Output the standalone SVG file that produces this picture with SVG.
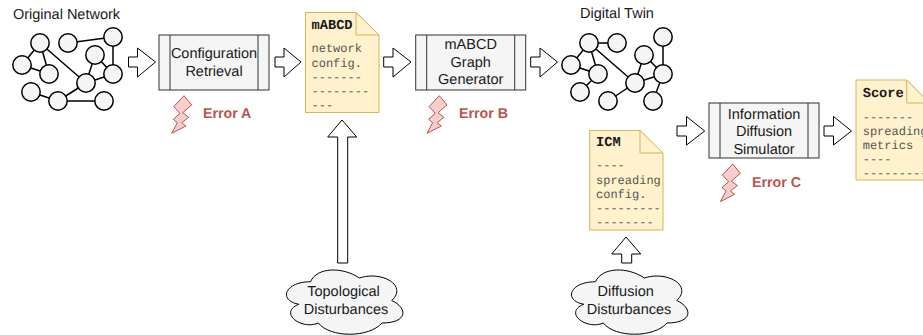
<svg xmlns="http://www.w3.org/2000/svg" xmlns:xlink="http://www.w3.org/1999/xlink" width="923" height="335" viewBox="0 0 923 335">
<style>
text{font-family:"Liberation Sans",Arial,sans-serif;text-rendering:geometricPrecision}
.bg{fill:#fff}
.edge{stroke:#000;stroke-width:1.5;fill:none}
.n{fill:#f5f5f5;stroke:#000;stroke-width:1.5}
.arrow{fill:#fff;stroke:#000;stroke-width:1}
.box{fill:#f5f5f5;stroke:#333;stroke-width:1}
.lbl{font-size:14.5px;fill:#1a1a1a;text-anchor:middle}
.ttl{font-size:14.5px;fill:#1a1a1a;text-anchor:middle}
.doc{fill:#fff2cc;stroke:#d6b656;stroke-width:1}
.mono{font-family:"Liberation Mono",monospace;font-size:12px;fill:#555}
.mono-b{font-family:"Liberation Mono",monospace;font-size:13.7px;font-weight:bold;fill:#1a1a1a}
.bolt{fill:#f8cecc;stroke:#b85450;stroke-width:1}
.err{font-size:14.2px;font-weight:bold;fill:#b85450}
.cloud{fill:#f5f5f5;stroke:#000;stroke-width:1}
</style>
<defs>
<path id="cl" d="M310.5 281.75C284.5 281.75 278 300.5 298.8 304.25C278 312.5 301.4 330.5 318.3 323C330 338 369 338 382 323C408 323 408 308 391.75 300.5C408 285.5 382 270.5 359.25 278C343 266.75 317 266.75 310.5 281.75Z"/>
<path id="bo" d="M184 95.7L191.7 105L182.7 112.7L188.7 117.3L181.7 122.7L186 126L171.7 133.3L177.3 122.7L173.3 119.3L180 113.3L173.7 106.7Z"/>
</defs>
<rect class="bg" width="923" height="335"/>
<g id="connectors">
<g class="edge">
<path d="M40 43L22 65M40 43L49 74M40 43L86 83M22 65L49 74M68 43L113 37M113 37L113 74M95 55L113 74M95 55L86 83M113 74L86 83M86 83L58 101M31 92L58 101M58 101L104 101"/>
<path d="M589 43L617 43M589 43L571 65M589 43L598 74M589 43L635 83M571 65L598 74M598 74L580 92M663 37L663 74M644 55L663 74M644 55L635 83M663 74L635 83M663 74L653 101M635 83L608 101"/>
</g>
<g class="arrow">
<path d="M128.5 57H137.5V48L155.5 62L137.5 77V67H128.5Z"/>
<path d="M275 57H284V48L301 62L284 77V67H275Z"/>
<path d="M383.7 57H393V48L411 62L393 77V67H383.7Z"/>
<path d="M530.7 57H540V48L557.5 62L540 77V67H530.7Z"/>
<path d="M677 126H686.5V116.5L704.7 131L686.5 145V136H677Z"/>
<path d="M824 126H833.5V116.5L851.5 131L833.5 145V136H824Z"/>
<path d="M337.7 263V137H327.7L342 120L356.7 137H347.7V263Z"/>
<path d="M621.7 263V254H611.7L626 237L640.7 254H631.7V263Z"/>
</g>
</g>
<g id="original-network">
<text class="ttl" x="66.5" y="19">Original Network</text>
<g id="on1"><circle class="n" cx="40" cy="43" r="9.2"/></g>
<g id="on2"><circle class="n" cx="68" cy="43" r="9.2"/></g>
<g id="on3"><circle class="n" cx="113" cy="37" r="9.2"/></g>
<g id="on4"><circle class="n" cx="95" cy="55" r="9.2"/></g>
<g id="on5"><circle class="n" cx="22" cy="65" r="9.2"/></g>
<g id="on6"><circle class="n" cx="49" cy="74" r="9.2"/></g>
<g id="on7"><circle class="n" cx="113" cy="74" r="9.2"/></g>
<g id="on8"><circle class="n" cx="86" cy="83" r="9.2"/></g>
<g id="on9"><circle class="n" cx="31" cy="92" r="9.2"/></g>
<g id="on10"><circle class="n" cx="58" cy="101" r="9.2"/></g>
<g id="on11"><circle class="n" cx="104" cy="101" r="9.2"/></g>
</g>
<g id="digital-twin">
<text class="ttl" x="617" y="18">Digital Twin</text>
<g id="dt1"><circle class="n" cx="589" cy="43" r="9.2"/></g>
<g id="dt2"><circle class="n" cx="617" cy="43" r="9.2"/></g>
<g id="dt3"><circle class="n" cx="663" cy="37" r="9.2"/></g>
<g id="dt4"><circle class="n" cx="644" cy="55" r="9.2"/></g>
<g id="dt5"><circle class="n" cx="571" cy="65" r="9.2"/></g>
<g id="dt6"><circle class="n" cx="598" cy="74" r="9.2"/></g>
<g id="dt7"><circle class="n" cx="663" cy="74" r="9.2"/></g>
<g id="dt8"><circle class="n" cx="635" cy="83" r="9.2"/></g>
<g id="dt9"><circle class="n" cx="580" cy="92" r="9.2"/></g>
<g id="dt10"><circle class="n" cx="608" cy="101" r="9.2"/></g>
<g id="dt11"><circle class="n" cx="653" cy="101" r="9.2"/></g>
</g>
<g id="config-retrieval">
<rect class="box" x="159" y="35" width="110" height="55"/>
<path class="box" d="M170 35V90M258 35V90"/>
<text class="lbl" x="214" y="58">Configuration</text>
<text class="lbl" x="214" y="76">Retrieval</text>
</g>
<g id="graph-generator">
<rect class="box" x="415.7" y="35" width="110" height="55"/>
<path class="box" d="M426.7 35V90M514.7 35V90"/>
<text class="lbl" x="470.7" y="49">mABCD</text>
<text class="lbl" x="470.7" y="67">Graph</text>
<text class="lbl" x="470.7" y="84">Generator</text>
</g>
<g id="diffusion-simulator">
<rect class="box" x="709" y="103" width="110" height="55"/>
<path class="box" d="M720 103V158M808 103V158"/>
<text class="lbl" x="764" y="119">Information</text>
<text class="lbl" x="764" y="136">Diffusion</text>
<text class="lbl" x="764" y="154">Simulator</text>
</g>
<g id="doc-mabcd">
<path class="doc" d="M305.5 12.5H356L379 35V112.5H305.5Z"/>
<path class="doc" d="M356 12.5V35H379Z"/>
<text class="mono-b" x="311.5" y="29">mABCD</text>
<text class="mono" x="311.5" y="52">network</text>
<text class="mono" x="311.5" y="66.5">config.</text>
<text class="mono" x="311.5" y="80.5">-------</text>
<text class="mono" x="311.5" y="94.5">--------</text>
<text class="mono" x="311.5" y="108.5">---</text>
</g>
<g id="doc-icm">
<path class="doc" d="M589.7 130.5H640L663 153V230H589.7Z"/>
<path class="doc" d="M640 130.5V153H663Z"/>
<text class="mono-b" x="596" y="146">ICM</text>
<text class="mono" x="596" y="169">----</text>
<text class="mono" x="596" y="184">spreading</text>
<text class="mono" x="596" y="198">config.</text>
<text class="mono" x="596" y="212">---------</text>
<text class="mono" x="596" y="226">--------</text>
</g>
<g id="doc-score">
<path class="doc" d="M856 80H906.7L929.5 103V180H856Z"/>
<path class="doc" d="M906.7 80V103H929.5Z"/>
<text class="mono-b" x="862.7" y="97">Score</text>
<text class="mono" x="862.7" y="120.5">-------</text>
<text class="mono" x="862.7" y="135">spreading</text>
<text class="mono" x="862.7" y="148.5">metrics</text>
<text class="mono" x="862.7" y="163">----</text>
<text class="mono" x="862.7" y="176.5">---------</text>
</g>
<g id="error-a">
<use class="bolt" xlink:href="#bo" href="#bo"/>
<text class="err" x="203" y="118">Error A</text>
</g>
<g id="error-b">
<use class="bolt" xlink:href="#bo" href="#bo" x="255.3"/>
<text class="err" x="459" y="118">Error B</text>
</g>
<g id="error-c">
<use class="bolt" xlink:href="#bo" href="#bo" x="548.7" y="68.3"/>
<text class="err" x="752" y="187">Error C</text>
</g>
<g id="topological-disturbances">
<use class="cloud" xlink:href="#cl" href="#cl"/>
<text class="lbl" x="343.5" y="296">Topological</text>
<text class="lbl" x="346" y="314">Disturbances</text>
</g>
<g id="diffusion-disturbances">
<use class="cloud" xlink:href="#cl" href="#cl" x="285"/>
<text class="lbl" x="625.7" y="296">Diffusion</text>
<text class="lbl" x="629" y="314">Disturbances</text>
</g>
</svg>
